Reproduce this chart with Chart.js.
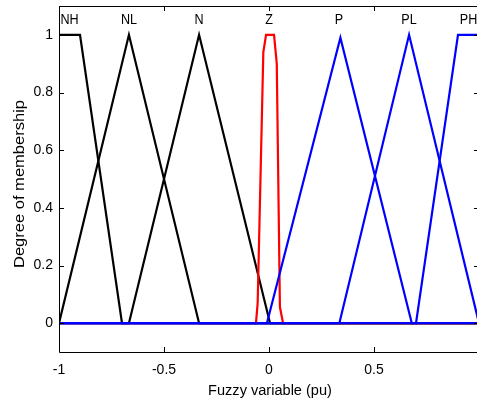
<!DOCTYPE html>
<html><head><meta charset="utf-8">
<script src="https://cdn.jsdelivr.net/npm/chart.js@4"></script>
<style>html,body{margin:0;padding:0;background:#fff;overflow:hidden;width:477px;height:406px}canvas{display:block}</style>
</head><body><canvas id="c" width="480" height="406"></canvas>
<script>
// Membership functions: [x, degree] pairs
const NH = [[-1,1],[-0.9,1],[-0.7,0],[1,0]];
const NL = [[-1,0],[-0.667,1],[-0.333,0],[1,0]];
const N  = [[-1,0],[-0.667,0],[-0.333,1],[0.005,0],[1,0]];
const Z  = [[-1,0],[-0.062,0],[-0.054,0.07],[-0.027,0.94],[-0.014,1],[0.024,1],[0.037,0.9],[0.052,0.056],[0.067,0],[1,0]];
const P  = [[-1,0],[-0.01,0],[0.34,0.99],[0.68,0],[1,0]];
const PL = [[-1,0],[0.335,0],[0.667,1],[1,0]];
const PH = [[-1,0],[0.7,0],[0.9,1],[1,1]];

const seriesNames = ['NH','NL','N','Z','P','PL','PH'];
const seriesData  = [NH, NL, N, Z, P, PL, PH];
const seriesColor = ['#000000','#000000','#000000','#ff0000','#0000ff','#0000ff','#0000ff'];
const labelX = [-0.95,-0.667,-0.333,0,0.333,0.667,0.95];
const labelY = 1.05;

const xTicks = [-1,-0.5,0,0.5];
const yTicks = [0,0.2,0.4,0.6,0.8,1];
const xTitle = 'Fuzzy variable (pu)';
const yTitle = 'Degree of membership';

const FAMILY = '"Liberation Sans",Arial,sans-serif';
const font = {family: FAMILY, size: 14};

const decor = {
  id: 'decor',
  afterDatasetsDraw(chart) {
    const {ctx, chartArea: a, scales: {x, y}} = chart;
    ctx.save();
    ctx.strokeStyle = '#000';
    ctx.lineWidth = 1;
    ctx.beginPath();
    ctx.rect(a.left + 0.5, a.top + 0.5, a.right - a.left - 1, a.bottom - a.top);
    const T = 5;
    xTicks.concat([1]).forEach(v => {
      const px = Math.round(x.getPixelForValue(v)) + 0.5;
      ctx.moveTo(px, a.bottom); ctx.lineTo(px, a.bottom - T);
      ctx.moveTo(px, a.top); ctx.lineTo(px, a.top + T);
    });
    yTicks.forEach(v => {
      const py = Math.round(y.getPixelForValue(v)) + 0.5;
      ctx.moveTo(a.left, py); ctx.lineTo(a.left + T, py);
      ctx.moveTo(a.right, py); ctx.lineTo(a.right - T, py);
    });
    ctx.stroke();
    ctx.fillStyle = '#000';
    ctx.font = '14px ' + FAMILY;
    ctx.textAlign = 'center';
    ctx.textBaseline = 'middle';
    seriesNames.forEach((n, i) => {
      const px = x.getPixelForValue(labelX[i]), py = y.getPixelForValue(labelY);
      ctx.save();
      ctx.translate(px, py);
      ctx.scale(0.9, 1.05);
      ctx.fillText(n, 0, 0);
      ctx.restore();
    });
    ctx.save();
    ctx.translate(270, 391);
    ctx.scale(1.04, 1.1);
    ctx.fillText(xTitle, 0, 0);
    ctx.restore();
    ctx.translate(20, 184);
    ctx.rotate(-Math.PI / 2);
    ctx.scale(1.18, 1.05);
    ctx.fillText(yTitle, 0, 0);
    ctx.restore();
  }
};

new Chart(document.getElementById('c'), {
  type: 'line',
  data: {
    datasets: seriesData.map((d, i) => ({
      label: seriesNames[i],
      data: d.map(([px, py]) => ({x: px, y: py})),
      borderColor: seriesColor[i],
      backgroundColor: seriesColor[i],
      borderWidth: 2.2,
      pointRadius: 0,
      tension: 0,
      fill: false,
      order: seriesColor[i] === '#0000ff' ? 0 : (seriesColor[i] === '#ff0000' ? 1 : 2)
    }))
  },
  options: {
    responsive: false,
    animation: false,
    devicePixelRatio: 1,
    layout: {padding: {top: 6, right: 1, left: 0, bottom: 0}},
    plugins: {legend: {display: false}, tooltip: {enabled: false}},
    scales: {
      x: {
        type: 'linear', min: -1, max: 1,
        grid: {display: false, drawTicks: false},
        border: {display: false},
        afterBuildTicks: s => { s.ticks = xTicks.map(v => ({value: v})); },
        ticks: {padding: 10, color: '#000', font, autoSkip: false, maxRotation: 0, callback: v => String(v)},
        afterFit: s => { s.height = 54; s.paddingLeft = 0; s.paddingRight = 0; }
      },
      y: {
        type: 'linear', min: -0.1, max: 1.1,
        grid: {display: false, drawTicks: false},
        border: {display: false},
        afterBuildTicks: s => { s.ticks = yTicks.map(v => ({value: v})); },
        ticks: {padding: 6, color: '#000', font, autoSkip: false, callback: v => String(v)},
        afterFit: s => { s.width = 59; s.paddingTop = 0; s.paddingBottom = 0; }
      }
    }
  },
  plugins: [decor]
});
</script>
</body></html>
